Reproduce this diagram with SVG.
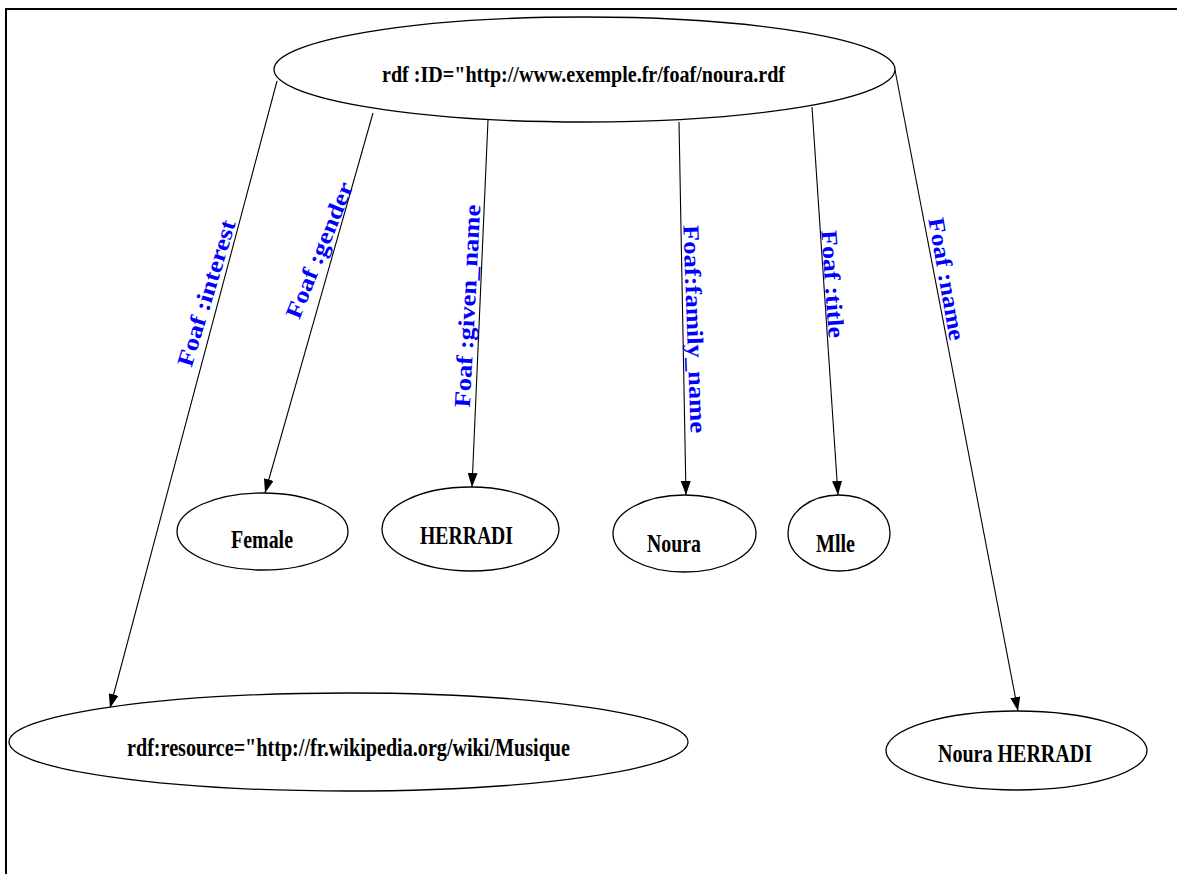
<svg xmlns="http://www.w3.org/2000/svg" width="1177" height="874" viewBox="0 0 1177 874">
<style>
.node ellipse{fill:#fff;stroke:#000;stroke-width:1.3}
.node text{font-family:"Liberation Serif","Times New Roman",serif;font-weight:bold;font-size:26px;fill:#000;text-anchor:middle}
.edge line{stroke:#000;stroke-width:1.1;marker-end:url(#arr)}
.lbl{font-family:"Liberation Serif","Times New Roman",serif;font-weight:bold;font-size:23px;fill:#0000ff;text-anchor:middle}
</style>
<defs>
<marker id="arr" markerUnits="userSpaceOnUse" markerWidth="14" markerHeight="10" refX="14" refY="5" orient="auto">
<path d="M0,0 L14,5 L0,10 z" fill="#000"/>
</marker>
</defs>
<rect width="1177" height="874" fill="#fff"/>
<g id="frame" stroke="#000" stroke-width="2" fill="none">
<line x1="5" y1="9" x2="1177" y2="9"/>
<line x1="6" y1="8" x2="6" y2="874"/>
</g>
<g id="edges" class="edge">
<line x1="277" y1="81" x2="110" y2="708"/>
<line x1="373" y1="113" x2="265" y2="493"/>
<line x1="488" y1="120" x2="472" y2="487"/>
<line x1="679" y1="122" x2="686" y2="495"/>
<line x1="812" y1="107" x2="838" y2="495"/>
<line x1="895" y1="70" x2="1018" y2="711"/>
</g>
<g id="edge-labels">
<text class="lbl" transform="translate(206,293) rotate(-73)" dy="0.35em" textLength="152" lengthAdjust="spacingAndGlyphs">Foaf :interest</text>
<text class="lbl" transform="translate(319,250) rotate(-68)" dy="0.35em" textLength="145" lengthAdjust="spacingAndGlyphs">Foaf :gender</text>
<text class="lbl" transform="translate(467,306) rotate(-87)" dy="0.35em" textLength="203" lengthAdjust="spacingAndGlyphs">Foaf :given_name</text>
<text class="lbl" transform="translate(695,329) rotate(88)" dy="0.35em" textLength="208" lengthAdjust="spacingAndGlyphs">Foaf:family_name</text>
<text class="lbl" transform="translate(833,284) rotate(86)" dy="0.35em" textLength="108" lengthAdjust="spacingAndGlyphs">Foaf :title</text>
<text class="lbl" transform="translate(947,279) rotate(80)" dy="0.35em" textLength="124" lengthAdjust="spacingAndGlyphs">Foaf :name</text>
</g>
<g id="n-root" class="node">
<ellipse cx="584.5" cy="69.5" rx="310.5" ry="52.5"/>
<text x="583.5" y="82" style="font-size:23px" textLength="403" lengthAdjust="spacingAndGlyphs">rdf :ID="http://www.exemple.fr/foaf/noura.rdf</text>
</g>
<g id="n-female" class="node">
<ellipse cx="262.5" cy="531.5" rx="85.5" ry="38.5"/>
<text x="262" y="548" textLength="62" lengthAdjust="spacingAndGlyphs">Female</text>
</g>
<g id="n-herradi" class="node">
<ellipse cx="470.5" cy="529" rx="88.5" ry="42"/>
<text x="466.5" y="544" textLength="93" lengthAdjust="spacingAndGlyphs">HERRADI</text>
</g>
<g id="n-noura" class="node">
<ellipse cx="684.5" cy="533.5" rx="71.5" ry="38.5"/>
<text x="674" y="552" textLength="54" lengthAdjust="spacingAndGlyphs">Noura</text>
</g>
<g id="n-mlle" class="node">
<ellipse cx="839" cy="533" rx="51" ry="38"/>
<text x="835.5" y="552" textLength="39" lengthAdjust="spacingAndGlyphs">Mlle</text>
</g>
<g id="n-musique" class="node">
<ellipse cx="348.5" cy="742" rx="339.5" ry="49"/>
<text x="348.5" y="756" textLength="443" lengthAdjust="spacingAndGlyphs">rdf:resource="http://fr.wikipedia.org/wiki/Musique</text>
</g>
<g id="n-fullname" class="node">
<ellipse cx="1016.5" cy="750.5" rx="130.5" ry="39.5"/>
<text x="1015" y="762" textLength="154" lengthAdjust="spacingAndGlyphs">Noura HERRADI</text>
</g>
</svg>
